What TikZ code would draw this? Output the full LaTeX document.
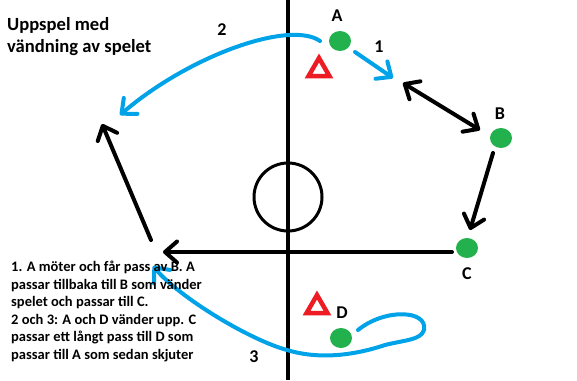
\documentclass[tikz,border=0pt]{standalone}
\usepackage{fontspec}
\setmainfont{Carlito}
\usetikzlibrary{arrows.meta,shapes.geometric}
\definecolor{pgreen}{RGB}{34,177,76}
\definecolor{pred}{RGB}{237,28,36}
\definecolor{pblue}{RGB}{0,162,232}

\begin{document}
\begin{tikzpicture}[x=1pt, y=-1pt,
  pl/.style={ellipse, fill=pgreen, minimum width=22pt, minimum height=20pt, inner sep=0pt},
  df/.style={regular polygon, regular polygon sides=3, draw=pred, line width=4.5pt, minimum size=24pt, inner sep=0pt},
  lb/.style={font=\bfseries\fontsize{18}{20}\selectfont, inner sep=0pt},
  mv/.style={line width=4pt, line cap=round, -{Straight Barb[length=12pt, width=21pt, round]}},
  ps/.style={mv, draw=pblue}]
\useasboundingbox[fill=white] (0,0) rectangle (577,380);
\coordinate (top) at (288,0);
\coordinate (bot) at (288,380);
\draw[line width=4pt] (top) -- (bot);
\node[circle, draw, line width=3pt, minimum size=68pt, inner sep=0pt] (mid) at (288,197) {};
\node[pl] (A) at (340,41) {};
\node[pl] (B) at (501,138) {};
\node[pl] (C) at (467,248) {};
\node[pl] (D) at (341,338) {};
\node[lb] (lA) at (337,16) {A};
\node[lb] (lB) at (500,114) {B};
\node[lb] (lC) at (467,274) {C};
\node[lb] (lD) at (342,313) {D};
\node[df] (dA) at (319,70) {};
\node[df] (dD) at (317,307) {};
\node[lb] (n1) at (379,47) {1};
\node[lb] (n2) at (222,30) {2};
\node[lb] (n3) at (254,357) {3};
\coordinate (a1) at (355,52);
\coordinate (a2) at (393,78);
\coordinate (b1) at (403,83);
\coordinate (b2) at (480,130);
\coordinate (c1) at (493,153);
\coordinate (c2) at (470,230);
\coordinate (h1) at (452,252);
\coordinate (h2) at (163,252);
\coordinate (w1) at (151,240);
\coordinate (w2) at (102,124);
\coordinate (s2) at (320,41);
\coordinate (e2) at (120,115);
\coordinate (s3) at (358,330);
\coordinate (e3) at (153,266);
\draw[ps] (a1) -- (a2);
\draw[mv, {Straight Barb[length=12pt, width=21pt, round]}-{Straight Barb[length=12pt, width=21pt, round]}] (b1) -- (b2);
\draw[mv] (c1) -- (c2);
\draw[mv] (h1) -- (h2);
\draw[mv] (w1) -- (w2);
\draw[ps] (s2) .. controls (290,20) and (190,55) .. (e2);
\draw[ps] (s3) .. controls (385,308) and (428,310) .. (424,330)
  .. controls (421,340) and (405,340) .. (385,345)
  .. controls (355,355) and (320,360) .. (287,350)
  .. controls (250,340) and (180,298) .. (e3);
\node[anchor=north west, align=left, inner sep=0pt, font=\bfseries\fontsize{18.6}{22}\selectfont] (title) at (7,17) {Uppspel med\\vändning av spelet};
\node[anchor=north west, align=left, inner sep=0pt, font=\bfseries\fontsize{14.5}{17.5}\selectfont] (info) at (11,261) {1. A möter och får pass av B. A\\passar tillbaka till B som vänder\\spelet och passar till C.\\2 och 3: A och D vänder upp. C\\passar ett långt pass till D som\\passar till A som sedan skjuter};
\end{tikzpicture}
\end{document}
